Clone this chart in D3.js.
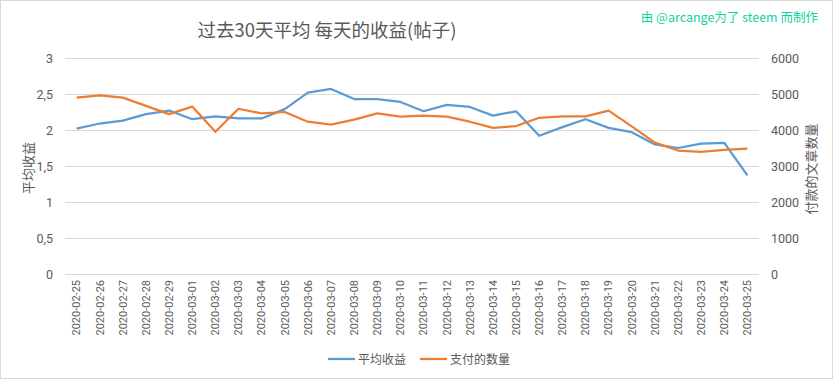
<!DOCTYPE html>
<html><head><meta charset="utf-8">
<script src="https://cdn.jsdelivr.net/npm/d3@7"></script>
<style>body{margin:0;background:#fff}svg{display:block}text{font-family:"Noto Sans CJK SC","Noto Sans",sans-serif}</style>
</head><body><svg id="c" width="833" height="379"></svg>
<script>
const dates = ["2020-02-25","2020-02-26","2020-02-27","2020-02-28","2020-02-29","2020-03-01","2020-03-02","2020-03-03","2020-03-04","2020-03-05","2020-03-06","2020-03-07","2020-03-08","2020-03-09","2020-03-10","2020-03-11","2020-03-12","2020-03-13","2020-03-14","2020-03-15","2020-03-16","2020-03-17","2020-03-18","2020-03-19","2020-03-20","2020-03-21","2020-03-22","2020-03-23","2020-03-24","2020-03-25"];
const avgReward = [2.02,2.09,2.13,2.22,2.27,2.15,2.19,2.16,2.16,2.29,2.52,2.57,2.43,2.43,2.39,2.26,2.35,2.32,2.20,2.26,1.92,2.04,2.15,2.03,1.97,1.80,1.75,1.81,1.82,1.37];
const paidPosts = [4900,4960,4900,4670,4440,4650,3950,4590,4460,4500,4230,4150,4290,4460,4370,4400,4370,4230,4060,4110,4340,4380,4380,4540,4100,3650,3430,3390,3450,3480];
const leftTicks = [0,0.5,1,1.5,2,2.5,3];
const rightTicks = [0,1000,2000,3000,4000,5000,6000];
const seriesNames = ["平均收益","支付的数量"];
const colors = ["#5b9bd5","#ed7d31"];

const svg = d3.select("#c");
svg.append("rect").attr("x",0.5).attr("y",0.5).attr("width",832).attr("height",378).attr("fill","#fff").attr("stroke","#d9d9d9");

const L=65,R=759,T=58,B=274;
const x = d3.scaleBand().domain(dates).range([L,R]);
const yL = d3.scaleLinear().domain([0,3]).range([B,T]);
const yR = d3.scaleLinear().domain([0,6000]).range([B,T]);

// gridlines
svg.append("g").selectAll("line").data(leftTicks).join("line")
  .attr("x1",L).attr("x2",R).attr("y1",d=>Math.round(yL(d))+0.5).attr("y2",d=>Math.round(yL(d))+0.5)
  .attr("stroke","#d9d9d9").attr("stroke-width",1);

const tf = d=>String(d).replace(".",",");
const gl = svg.append("g").attr("transform",`translate(${L},0)`).call(d3.axisLeft(yL).tickValues(leftTicks).tickFormat(tf).tickSize(0).tickPadding(12));
const gr = svg.append("g").attr("transform",`translate(${R},0)`).call(d3.axisRight(yR).tickValues(rightTicks).tickFormat(d3.format("d")).tickSize(0).tickPadding(12));
const gx = svg.append("g").attr("transform",`translate(0,${B})`).call(d3.axisBottom(x).tickSize(0).tickPadding(0));
[gl,gr,gx].forEach(g=>{g.select(".domain").remove();g.selectAll("text").attr("fill","#595959").style("font-family",'Roboto,"Noto Sans",sans-serif');});
gl.selectAll("text").attr("font-size",12.5);
gr.selectAll("text").attr("font-size",12.5);
gx.selectAll("text").attr("font-size",11).attr("text-anchor","end").attr("dy","0.35em")
  .attr("transform","translate(0,6) rotate(-90)").attr("x",0).attr("y",0);

const cx = d=>x(d)+x.bandwidth()/2;
const line1 = d3.line().x((d,i)=>cx(dates[i])).y(d=>yL(d));
const line2 = d3.line().x((d,i)=>cx(dates[i])).y(d=>yR(d));
svg.append("path").attr("d",line1(avgReward)).attr("fill","none").attr("stroke",colors[0]).attr("stroke-width",2.25).attr("stroke-linejoin","round");
svg.append("path").attr("d",line2(paidPosts)).attr("fill","none").attr("stroke",colors[1]).attr("stroke-width",2.25).attr("stroke-linejoin","round");

// titles
svg.append("text").attr("x",327).attr("y",37).attr("text-anchor","middle").attr("font-size",18.5).attr("fill","#595959").text("过去30天平均 每天的收益(帖子)");
svg.append("text").attr("x",818).attr("y",22).attr("text-anchor","end").attr("font-size",12.5).attr("fill","#14d0a2").text("由 @arcange为了 steem 而制作");
svg.append("text").attr("transform","translate(33,168) rotate(-90)").attr("text-anchor","middle").attr("font-size",13).attr("fill","#595959").text("平均收益");
svg.append("text").attr("transform","translate(816,169) rotate(-90)").attr("text-anchor","middle").attr("font-size",13).attr("fill","#595959").text("付款的文章数量");

// legend
const lg = svg.append("g");
[[328,seriesNames[0],colors[0]],[420,seriesNames[1],colors[1]]].forEach(([lx,t,c])=>{
  lg.append("line").attr("x1",lx).attr("x2",lx+27).attr("y1",359).attr("y2",359).attr("stroke",c).attr("stroke-width",2.25);
  lg.append("text").attr("x",lx+30).attr("y",363.5).attr("font-size",12).attr("fill","#595959").text(t);
});
</script></body></html>
